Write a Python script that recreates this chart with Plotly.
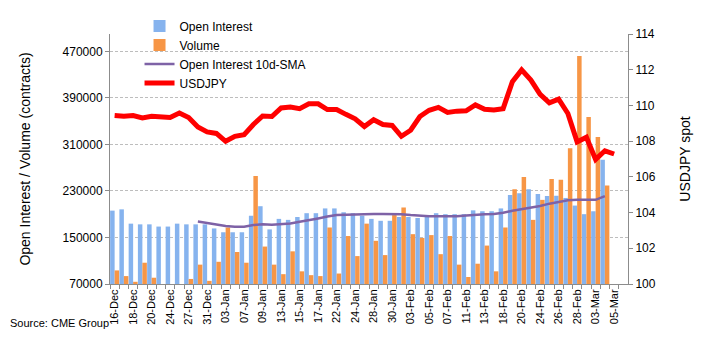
import plotly.graph_objects as go

# Trading days (category axis)
dates = ['16-Dec','17-Dec','18-Dec','19-Dec','20-Dec','23-Dec','24-Dec','26-Dec','27-Dec','30-Dec','31-Dec',
         '02-Jan','03-Jan','06-Jan','07-Jan','08-Jan','09-Jan','10-Jan','13-Jan','14-Jan','15-Jan','16-Jan','17-Jan',
         '21-Jan','22-Jan','23-Jan','24-Jan','27-Jan','28-Jan','29-Jan','30-Jan','31-Jan',
         '03-Feb','04-Feb','05-Feb','06-Feb','07-Feb','10-Feb','11-Feb','12-Feb','13-Feb','14-Feb',
         '18-Feb','19-Feb','20-Feb','21-Feb','24-Feb','25-Feb','26-Feb','27-Feb','28-Feb',
         '02-Mar','03-Mar','04-Mar','05-Mar']

open_interest = [196200,198400,173800,172600,172600,168800,168800,173800,172600,172600,172600,165600,159000,159000,
                 159000,187400,203800,163900,182000,180300,185200,191800,191800,200000,200000,193400,191800,187400,
                 182000,178700,178700,185200,185200,183500,188500,191800,190100,190100,190100,196700,195100,195100,
                 200000,223000,226200,232800,224600,221300,222000,218000,204900,190100,195100,283600]

volume = [93400,83600,73800,106600,80800,65000,65000,68000,78700,103300,75400,108200,167200,125100,106600,255700,
          134400,103300,86900,126200,91800,85200,83600,167200,88000,152500,118000,173800,144300,119700,188500,201600,
          155700,149200,154100,121300,152500,103300,82000,104900,136100,91800,167200,232800,254100,180300,214700,
          250800,249200,303300,462300,357400,322900,239300]

oi_sma10 = [None]*9 + [177600,174600,171700,169700,168500,168400,171300,172600,172100,172900,174100,177000,179500,
                       182800,186000,188500,189300,190100,190600,190600,190600,190600,190100,188500,186900,186400,
                       186400,186400,186400,187700,189300,190100,190600,192600,195900,198400,200800,204100,208200,
                       211500,213900,214700,214700,214700,221300]

usdjpy = [109.43,109.39,109.43,109.30,109.39,109.36,109.32,109.57,109.32,108.79,108.52,108.43,107.99,108.27,108.36,
          108.93,109.41,109.38,109.86,109.91,109.82,110.09,110.09,109.77,109.77,109.50,109.25,108.82,109.20,108.93,
          108.88,108.27,108.61,109.38,109.73,109.89,109.61,109.68,109.70,110.03,109.78,109.74,109.82,111.33,111.99,
          111.42,110.62,110.14,110.35,109.55,107.96,108.22,106.98,107.46,107.28]

left_ticks = [70000, 150000, 230000, 310000, 390000, 470000]
right_ticks = [100, 102, 104, 106, 108, 110, 112, 114]
tick_text = [d if i % 2 == 0 else '' for i, d in enumerate(dates)]

FONT = 'Arial, Liberation Sans, sans-serif'
AXIS_GREY = '#8C8C8C'

n_bars = len(open_interest)
fig = go.Figure()
fig.add_bar(x=dates[:n_bars], y=open_interest, name='Open Interest',
            marker=dict(color='#86B3EE', line=dict(width=0)))
fig.add_bar(x=dates[:n_bars], y=volume, name='Volume',
            marker=dict(color='#F79646', line=dict(width=0)))
fig.add_scatter(x=dates, y=oi_sma10, name='Open Interest 10d-SMA', mode='lines',
                line=dict(color='#7E62A6', width=2.5))
fig.add_scatter(x=dates, y=usdjpy, name='USDJPY', mode='lines', yaxis='y2',
                line=dict(color='#FF0000', width=5))

fig.update_layout(
    width=704, height=337,
    margin=dict(l=110, r=76, t=22, b=53),
    paper_bgcolor='white', plot_bgcolor='white',
    font=dict(family=FONT, size=12, color='black'),
    barmode='group', bargap=0.03, bargroupgap=0,
    showlegend=True,
    legend=dict(x=0.057, y=1.09, xanchor='left', yanchor='top', bgcolor='rgba(0,0,0,0)',
                font=dict(family=FONT, size=12), traceorder='normal', tracegroupgap=0),
    xaxis=dict(type='category', categoryorder='array', categoryarray=dates,
               range=[-0.5, 55.5], tickmode='array', tickvals=dates, ticktext=tick_text,
               tickangle=-90, tickson='boundaries', ticks='outside', ticklen=4, tickcolor=AXIS_GREY,
               showline=True, linecolor=AXIS_GREY, linewidth=1, showgrid=False,
               tickfont=dict(family=FONT, size=11)),
    yaxis=dict(range=[70000, 500000], tickmode='array', tickvals=left_ticks, tickformat='d',
               showgrid=True, gridcolor='#BDBDBD', griddash='3px,2px', gridwidth=1, zeroline=False,
               showline=True, linecolor=AXIS_GREY, ticks='outside', ticklen=4, tickcolor=AXIS_GREY,
               tickfont=dict(family=FONT, size=12),
               title=dict(text='Open Interest / Volume (contracts)', font=dict(family=FONT, size=14),
                          standoff=28)),
    yaxis2=dict(overlaying='y', side='right', range=[100, 114], tickmode='array', tickvals=right_ticks,
                showgrid=False, zeroline=False, showline=True, linecolor=AXIS_GREY,
                ticks='outside', ticklen=4, tickcolor=AXIS_GREY, tickfont=dict(family=FONT, size=12),
                title=dict(text='USDJPY spot', font=dict(family=FONT, size=14), standoff=25)),
    annotations=[dict(text='Source: CME Group', xref='paper', yref='paper', x=-0.197, y=-0.156,
                      xanchor='left', yanchor='middle', showarrow=False,
                      font=dict(family=FONT, size=11, color='black'))],
)

fig.write_html('out.html')
